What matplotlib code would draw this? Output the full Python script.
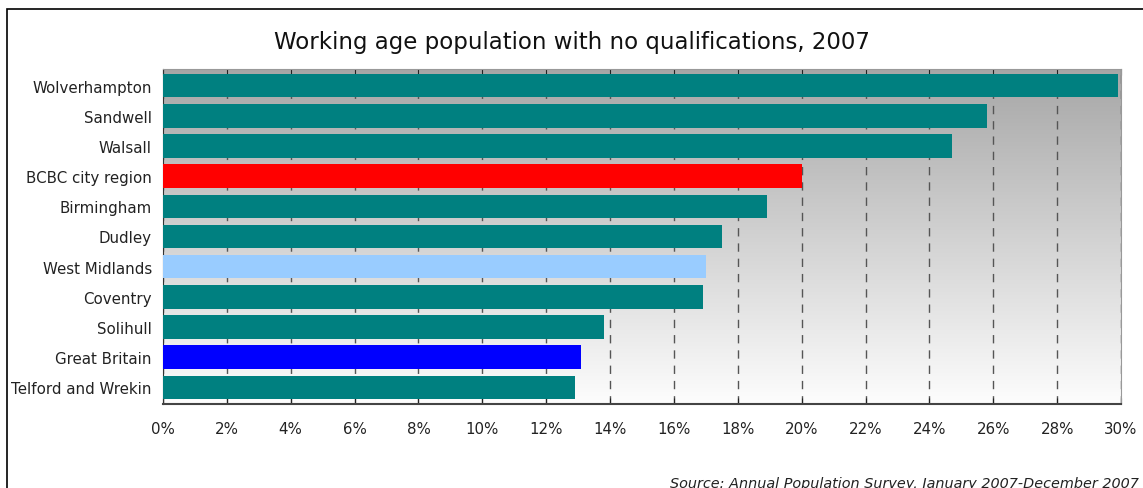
import numpy as np
import matplotlib
matplotlib.use("Agg")
from matplotlib import pyplot as plt
from matplotlib.ticker import FuncFormatter

areas = ["Wolverhampton", "Sandwell", "Walsall", "BCBC city region", "Birmingham",
         "Dudley", "West Midlands", "Coventry", "Solihull", "Great Britain",
         "Telford and Wrekin"]
no_quals = [29.9, 25.8, 24.7, 20.0, 18.9, 17.5, 17.0, 16.9, 13.8, 13.1, 12.9]
colours = ["#008080", "#008080", "#008080", "#ff0000", "#008080", "#008080",
           "#99ccff", "#008080", "#008080", "#0000ff", "#008080"]

plt.rcParams['font.family'] = ['DejaVu Sans']

fig = plt.figure(figsize=(11.43, 4.89), dpi=100)
# outer chart frame
fig.add_artist(plt.Rectangle((0.006, -0.05), 1.1, 1.03, transform=fig.transFigure,
                             fill=False, edgecolor="black", linewidth=1.2))
ax = fig.add_axes([0.1426, 0.1718, 0.8382, 0.6851])

# grey-to-white background gradient
grad = np.linspace(0, 1, 256).reshape(-1, 1)
cmap = matplotlib.colors.LinearSegmentedColormap.from_list("bg", ["#a6a6a6", "#fdfdfd"])
ax.imshow(grad, aspect="auto", cmap=cmap, extent=[0, 1, 0, 1],
          transform=ax.transAxes, zorder=0)

y = np.arange(len(areas))
ax.barh(y, no_quals, height=0.78, color=colours, zorder=3)
ax.set_yticks(y)
ax.set_yticklabels(areas, fontsize=10.8, color="#222222")
ax.set_ylim(len(areas) - 0.45, -0.55)
ax.set_xlim(0, 30)
ax.set_xticks(np.arange(0, 31, 2))
ax.xaxis.set_major_formatter(FuncFormatter(lambda v, p: f"{v:.0f}%"))
ax.tick_params(axis="x", labelsize=10.8, direction="in", length=4, colors="#222222",
               pad=12, top=True)
ax.tick_params(axis="y", length=0, pad=8)
ax.grid(axis="x", color="#555555", linestyle=(0, (6, 5)), linewidth=1, zorder=1)
for s in ["top", "right"]:
    ax.spines[s].set_color("#999999")
ax.spines["left"].set_color("#333333")
ax.spines["bottom"].set_color("#444444")
ax.spines["bottom"].set_linewidth(1.5)

fig.text(0.5, 0.913, "Working age population with no qualifications, 2007",
         ha="center", va="center", fontsize=16.5, color="#111111")
fig.text(0.996, -0.004, "Source: Annual Population Survey, January 2007-December 2007",
         ha="right", va="bottom", fontsize=10.4, style="italic", color="#222222")

fig.savefig("out.png", dpi=100)
